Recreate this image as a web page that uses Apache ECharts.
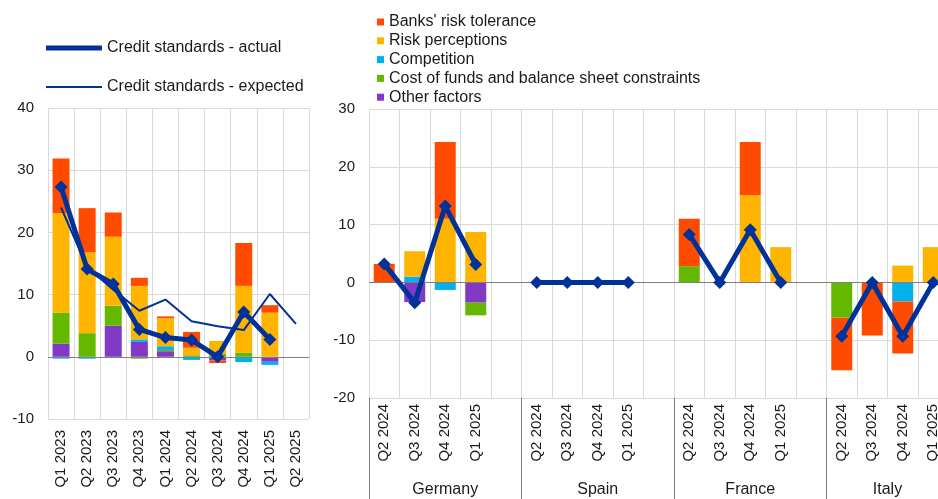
<!DOCTYPE html>
<html>
<head>
<meta charset="utf-8">
<script src="https://cdn.jsdelivr.net/npm/echarts@6/dist/echarts.min.js"></script>
<style>
  html, body { margin: 0; padding: 0; background: #fff; }
  #dom { width: 938px; height: 499px; }
</style>
</head>
<body>
<div id="dom"></div>
<script>
// euro area, Q1 2023 - Q2 2025
const quarters = ['Q1 2023', 'Q2 2023', 'Q3 2023', 'Q4 2023', 'Q1 2024', 'Q2 2024', 'Q3 2024', 'Q4 2024', 'Q1 2025', 'Q2 2025'];
const riskTolerance = [8.8, 7.1, 3.9, 1.3, 0.3, 2.55, -0.4, 6.9, 1.2, null];
const riskPerceptions = [16.0, 13.0, 11.1, 8.6, 4.5, 1.2, 2.05, 10.7, 7.1, null];
const competition = [-0.3, -0.3, -0.2, 0.4, 0.6, -0.5, 0, -0.85, -0.5, null];
const costOfFunds = [5.0, 3.8, 3.2, -0.3, 0.2, 0.25, 0.5, 0.7, 0, null];
const otherFactors = [2.1, 0, 5.0, 2.4, 0.9, 0, -0.6, 0, -0.8, null];
const actual = [27.3, 14.1, 11.7, 4.4, 3.1, 2.7, 0, 7.2, 2.8, null];
const expected = [24.0, 14.4, 10.8, 7.4, 9.2, 5.7, 4.9, 4.3, 10.1, 5.3];

// largest countries, Q2 2024 - Q1 2025 (Germany, Spain, France, Italy)
const countries = ['Germany', 'Spain', 'France', 'Italy'];
const countryQuarters = ['Q2 2024', 'Q3 2024', 'Q4 2024', 'Q1 2025'];
const ctyRiskTolerance = [3.2, 0, 13.3, 0, 0, 0, 0, 0, 8.2, 0, 9.2, 0, -9.1, -9.2, -9.0, 0];
const ctyRiskPerceptions = [0, 4.4, 11.0, 8.7, 0, 0, 0, 0, 0, 0, 15.1, 6.1, 0, 0, 2.9, 6.1];
const ctyCompetition = [0, 1.0, -1.3, 0, 0, 0, 0, 0, 0, 0, 0, 0, 0, 0, -3.3, 0];
const ctyCostOfFunds = [0, 0, 0, -2.2, 0, 0, 0, 0, 2.8, 0, 0, 0, -6.1, 0, 0, 0];
const ctyOtherFactors = [0, -3.4, 0, -3.5, 0, 0, 0, 0, 0, 0, 0, 0, 0, 0, 0, 0];
const ctyActual = [3.2, -3.5, 13.2, 3.1, 0, 0, 0, 0, 8.3, 0, 9.1, 0, -9.3, 0, -9.3, 0];

const colors = {
  tol: '#FF4B00',
  perc: '#FFB400',
  comp: '#00B1EA',
  cost: '#65B800',
  other: '#8139C6',
  line: '#003299'
}

// one empty slot between countries
function withGaps (arr) {
  let out = []
  for (let i = 0; i < arr.length; i += 4) {
    if (i > 0) out.push(null)
    out = out.concat(arr.slice(i, i + 4))
  }
  return out
}
const ctyCats = []
countries.forEach((c, i) => {
  if (i > 0) ctyCats.push('')
  countryQuarters.forEach(q => ctyCats.push(q))
})
// group edges and centres, in slot units
const groupEdges = []
const groupMids = []
countries.forEach((c, i) => {
  groupEdges.push(i * 5)
  groupMids.push(i * 5 + (i < countries.length - 1 ? 2.5 : 2))
})

const names = {
  tol: "Banks' risk tolerance",
  perc: 'Risk perceptions',
  comp: 'Competition',
  cost: 'Cost of funds and balance sheet constraints',
  other: 'Other factors'
}

function barSeries (key, data, idx) {
  return {
    name: names[key],
    type: 'bar',
    stack: 'f' + idx,
    xAxisIndex: idx,
    yAxisIndex: idx,
    barWidth: idx === 0 ? 17 : 21,
    data: data,
    itemStyle: { color: colors[key] },
    z: 2
  }
}

function zeroLine (idx) {
  return {
    type: 'line',
    xAxisIndex: idx,
    yAxisIndex: idx,
    data: [],
    markLine: {
      silent: true,
      symbol: 'none',
      label: { show: false },
      lineStyle: { color: '#7f7f7f', width: 1, type: 'solid' },
      data: [{ yAxis: 0 }]
    }
  }
}

function initChart () {
  const myChart = echarts.init(document.getElementById('dom'))
  const grey = '#d9d9d9'
  const label = { color: '#1a1a1a', fontSize: 15 }
  const legendText = { fontSize: 16, color: '#1a1a1a' }
  const option = {
    animation: false,
    textStyle: { fontFamily: 'Liberation Sans, Arial, sans-serif' },
    legend: [
      {
        data: ['Credit standards - actual'],
        left: 41,
        top: 35,
        icon: 'rect',
        itemWidth: 56,
        itemHeight: 5,
        textStyle: legendText
      },
      {
        data: ['Credit standards - expected'],
        left: 41,
        top: 74,
        icon: 'rect',
        itemWidth: 56,
        itemHeight: 2,
        textStyle: legendText
      },
      {
        data: [names.tol, names.perc, names.comp, names.cost, names.other],
        orient: 'vertical',
        left: 372,
        top: 9,
        icon: 'rect',
        itemWidth: 7,
        itemHeight: 7,
        itemGap: 2.8,
        textStyle: legendText
      }
    ],
    grid: [
      { left: 48, right: 629, top: 108, bottom: 80 },
      { left: 369, width: 579.5, top: 109, bottom: 101, outerBoundsMode: 'none' }
    ],
    xAxis: [
      {
        type: 'category',
        gridIndex: 0,
        data: quarters,
        position: 'bottom',
        axisLine: { show: false, onZero: false },
        axisTick: { show: false },
        splitLine: { show: true, lineStyle: { color: grey } },
        axisLabel: Object.assign({ rotate: 90, margin: 11 }, label)
      },
      {
        type: 'category',
        gridIndex: 1,
        data: ctyCats,
        position: 'bottom',
        axisLine: { show: false, onZero: false },
        axisTick: { show: false },
        splitLine: { show: true, lineStyle: { color: grey } },
        axisLabel: Object.assign({ rotate: 90, margin: 6, interval: 0 }, label)
      },
      {
        // country groups
        type: 'value',
        gridIndex: 1,
        min: 0,
        max: ctyCats.length,
        position: 'bottom',
        axisLine: { show: false, onZero: false },
        axisTick: { show: true, length: 105, customValues: groupEdges, lineStyle: { color: '#808080' } },
        splitLine: { show: false },
        axisLabel: {
          color: '#1a1a1a',
          fontSize: 16,
          margin: 84,
          customValues: groupMids,
          formatter: v => countries[groupMids.indexOf(v)] || ''
        }
      }
    ],
    yAxis: [
      {
        type: 'value',
        gridIndex: 0,
        min: -10,
        max: 40,
        interval: 10,
        axisLine: { show: false },
        axisTick: { show: false },
        splitLine: { lineStyle: { color: grey } },
        axisLabel: Object.assign({ margin: 14 }, label)
      },
      {
        type: 'value',
        gridIndex: 1,
        min: -20,
        max: 30,
        interval: 10,
        axisLine: { show: false },
        axisTick: { show: false },
        splitLine: { lineStyle: { color: grey } },
        axisLabel: Object.assign({ margin: 14 }, label)
      }
    ],
    series: [
      barSeries('other', otherFactors, 0),
      barSeries('cost', costOfFunds, 0),
      barSeries('comp', competition, 0),
      barSeries('perc', riskPerceptions, 0),
      barSeries('tol', riskTolerance, 0),
      barSeries('other', withGaps(ctyOtherFactors), 1),
      barSeries('cost', withGaps(ctyCostOfFunds), 1),
      barSeries('comp', withGaps(ctyCompetition), 1),
      barSeries('perc', withGaps(ctyRiskPerceptions), 1),
      barSeries('tol', withGaps(ctyRiskTolerance), 1),
      zeroLine(0),
      zeroLine(1),
      {
        name: 'Credit standards - expected',
        type: 'line',
        xAxisIndex: 0,
        yAxisIndex: 0,
        data: expected,
        symbol: 'none',
        lineStyle: { color: colors.line, width: 2 },
        itemStyle: { color: colors.line },
        z: 4
      },
      {
        name: 'Credit standards - actual',
        type: 'line',
        xAxisIndex: 0,
        yAxisIndex: 0,
        data: actual,
        symbol: 'diamond',
        symbolSize: 13,
        lineStyle: { color: colors.line, width: 5 },
        itemStyle: { color: colors.line },
        z: 5
      },
      {
        name: 'Credit standards - actual',
        type: 'line',
        xAxisIndex: 1,
        yAxisIndex: 1,
        data: withGaps(ctyActual),
        connectNulls: false,
        symbol: 'diamond',
        symbolSize: 13,
        lineStyle: { color: colors.line, width: 5 },
        itemStyle: { color: colors.line },
        z: 5
      }
    ]
  }
  myChart.setOption(option)
}

initChart()
</script>
</body>
</html>
